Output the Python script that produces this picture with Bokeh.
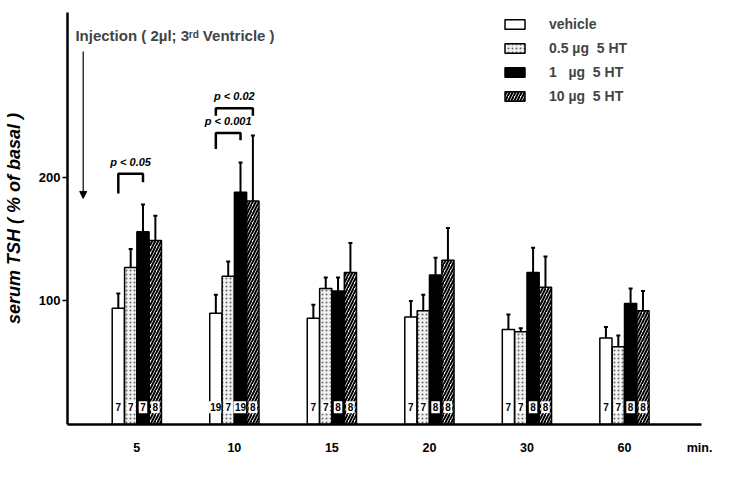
from bokeh.plotting import figure
from bokeh.models import (ColumnDataSource, Range1d, FixedTicker, Legend, LegendItem,
                          Whisker, TeeHead, Label, Arrow, NormalHead)
from bokeh.core.properties import value
from bokeh.embed import file_html
from bokeh.resources import INLINE

# ---- data ----
times = ["5", "10", "15", "20", "30", "60"]
x_unit_label = "min."
series_names = ["vehicle", "0.5 \u00b5g  5 HT", "1   \u00b5g  5 HT", "10 \u00b5g  5 HT"]
vehicle = [94, 90, 86, 87, 77, 70]
vehicle_sem = [12, 15, 11, 13, 12, 9]
ht_05 = [127, 120, 110, 92, 75, 63]
ht_05_sem = [15, 12, 9, 13, 3, 9]
ht_1 = [156, 188, 108, 121, 123, 98]
ht_1_sem = [22, 24, 11, 14, 20, 12]
ht_10 = [149, 181, 123, 133, 111, 92]
ht_10_sem = [20, 53, 24, 26, 25, 16]
n_vehicle = [7, 19, 7, 7, 7, 7]
n_05 = [7, 7, 7, 7, 7, 7]
n_1 = [7, 19, 8, 8, 8, 8]
n_10 = [8, 8, 8, 8, 8, 8]
y_ticks = [100, 200]
# significance brackets: (time index, series a, series b, top, leg a end, leg b end, label)
sig_time = [0, 1, 1]
sig_a = [0, 0, 0]
sig_b = [2, 2, 3]
sig_top = [203, 236, 256]
sig_leg_a = [187, 223, 250]
sig_leg_b = [196, 230, 250]
sig_text = ["p < 0.05", "p < 0.001", "p < 0.02"]

FONT = "Liberation Sans"
offsets = [-0.19, -0.063, 0.063, 0.19]
bar_w = 0.125

p = figure(width=717, height=466, output_backend="svg", toolbar_location=None,
           x_range=Range1d(-0.711, 5.79), y_range=Range1d(0, 333.5),
           min_border_left=66, min_border_right=16, min_border_top=12, min_border_bottom=42)
p.outline_line_color = None
p.xgrid.visible = False
p.ygrid.visible = False
p.background_fill_color = "white"
p.border_fill_color = "white"

means = [vehicle, ht_05, ht_1, ht_10]
sems = [vehicle_sem, ht_05_sem, ht_1_sem, ht_10_sem]
ns = [n_vehicle, n_05, n_1, n_10]
styles = [
    dict(fill_color="white"),
    dict(fill_color="#f2f2f2", hatch_pattern="dot", hatch_color="#666666", hatch_scale=4, hatch_weight=1),
    dict(fill_color="black"),
    dict(fill_color="white", hatch_pattern="right_diagonal_line", hatch_color="black", hatch_scale=6, hatch_weight=2),
]

items = []
for k in range(4):
    xs = [i + offsets[k] for i in range(len(times))]
    labels = [str(v) for v in ns[k]]
    src = ColumnDataSource(dict(
        x=xs, top=means[k],
        upper=[m + s for m, s in zip(means[k], sems[k])],
        n=labels,
        ny=[14] * len(times),
        bw=[5.5 * len(s) + 3 for s in labels],
    ))
    r = p.vbar(x="x", top="top", width=bar_w, bottom=0, source=src,
               line_color="black", line_width=1.5, **styles[k])
    items.append(LegendItem(label=series_names[k], renderers=[r]))
    w = Whisker(base="x", lower="top", upper="upper", source=src, dimension="height",
                line_color="black", line_width=2,
                upper_head=TeeHead(size=4, line_width=2, line_color="black"), lower_head=None)
    p.add_layout(w)
    # n-count boxes at the foot of each bar
    p.rect(x="x", y="ny", width="bw", height=12, width_units="screen", height_units="screen",
           source=src, fill_color="white", line_color=None)
    p.text(x="x", y="ny", text="n", source=src, text_align="center", text_baseline="middle",
           text_font=value(FONT), text_font_size=value("10px"),
           text_font_style=value("bold"), text_color=value("black"))

# significance brackets
bx, by, tx, ty = [], [], [], []
for t, a, b, top, la, lb in zip(sig_time, sig_a, sig_b, sig_top, sig_leg_a, sig_leg_b):
    xa = t + offsets[a]
    xb = t + offsets[b]
    bx.append([xa, xa, xb, xb])
    by.append([la, top, top, lb])
    tx.append((xa + xb) / 2)
    ty.append(top + 5)
p.multi_line(xs=bx, ys=by, line_color="black", line_width=2.5)
p.text(x=tx, y=ty, text=sig_text, text_align="center", text_baseline="bottom",
       text_font=value(FONT), text_font_size=value("11px"),
       text_font_style=value("bold italic"), text_color=value("black"))

# injection note
p.add_layout(Label(x=-0.63, y=315, text="Injection ( 2\u00b5l; 3\u02b3\u1d48 Ventricle )",
                   text_font=FONT, text_font_size="15px", text_font_style="bold",
                   text_baseline="middle", text_align="left"))
p.add_layout(Arrow(x_start=-0.55, y_start=302, x_end=-0.55, y_end=183, line_width=1.2,
                   end=NormalHead(size=7, fill_color="black", line_color="black")))

# axes
tick_pos = list(range(len(times))) + [5.77]
p.xaxis.ticker = FixedTicker(ticks=tick_pos)
overrides = {i: t for i, t in enumerate(times)}
overrides[5.77] = x_unit_label
p.xaxis.major_label_overrides = overrides
p.xaxis.major_tick_line_color = None
p.xaxis.minor_tick_line_color = None
p.xaxis.axis_line_width = 2.5
p.xaxis.major_label_standoff = 10
p.xaxis.major_label_text_font = FONT
p.xaxis.major_label_text_font_size = "12.5px"
p.xaxis.major_label_text_font_style = "bold"
p.xaxis.major_label_text_color = "black"

p.yaxis.ticker = FixedTicker(ticks=y_ticks)
p.yaxis.minor_tick_line_color = None
p.yaxis.axis_line_width = 2.5
p.yaxis.major_tick_out = 5
p.yaxis.major_tick_in = 0
p.yaxis.major_tick_line_width = 1.5
p.yaxis.major_label_standoff = 2
p.yaxis.major_label_text_font = FONT
p.yaxis.major_label_text_font_size = "13px"
p.yaxis.major_label_text_font_style = "bold"
p.yaxis.major_label_text_color = "black"
p.yaxis.axis_label = "serum TSH ( % of basal )"
p.yaxis.axis_label_text_font = FONT
p.yaxis.axis_label_text_font_size = "18px"
p.yaxis.axis_label_text_font_style = "bold italic"
p.yaxis.axis_label_standoff = 12
p.yaxis.axis_label_text_color = "black"

legend = Legend(items=items, location=(435, 320), glyph_width=25, glyph_height=12,
                label_height=14, spacing=8, padding=0, margin=0, label_standoff=22,
                label_text_font=FONT, label_text_font_size="14px", label_text_font_style="bold",
                border_line_color=None, background_fill_alpha=0)
p.add_layout(legend)

open("out.html", "w").write(file_html(p, INLINE))
